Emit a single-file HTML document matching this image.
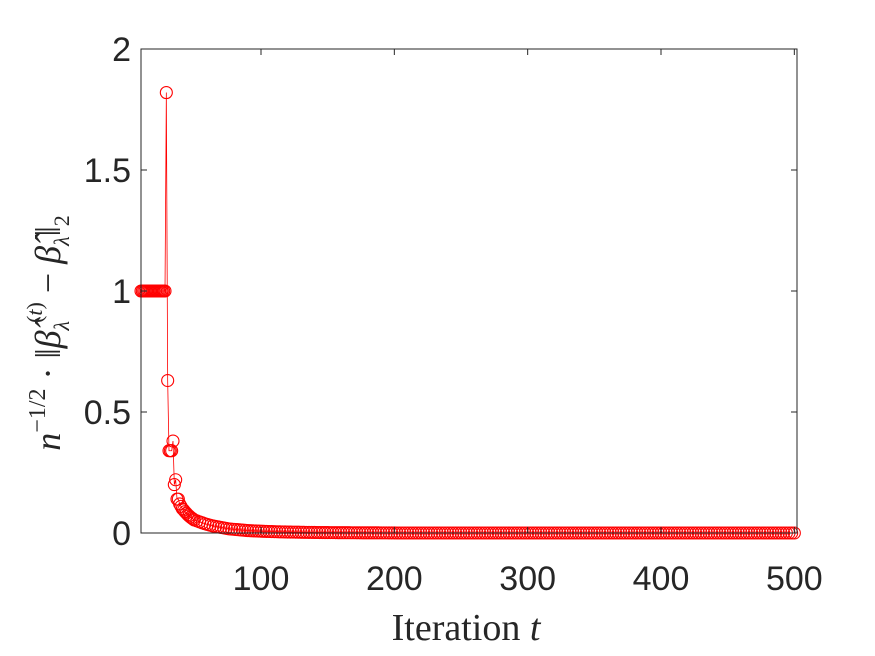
<!DOCTYPE html>
<html><head><meta charset="utf-8"><style>
html,body{margin:0;padding:0;background:#fff;width:875px;height:656px;overflow:hidden}
text{font-family:"Liberation Sans",sans-serif}
</style></head><body>
<svg id="chart" width="875" height="656">
<rect x="0" y="0" width="875" height="656" fill="#fff"/>
<g id="plot"></g>
<g id="axes"></g>
<text x="466" y="640" text-anchor="middle" font-size="38" fill="#262626" style="font-family:'Liberation Serif',serif">Iteration <tspan font-style="italic">t</tspan></text>
<text transform="translate(60,333) rotate(-90)" text-anchor="middle" font-size="36" fill="#262626" style="font-family:'Liberation Serif',serif"><tspan font-style="italic">n</tspan><tspan font-size="24" dy="-15">−1/2</tspan><tspan dy="15"> · ‖</tspan><tspan font-style="italic">β̂</tspan><tspan font-size="22" dy="9" font-style="italic">λ</tspan><tspan font-size="22" dy="-27" dx="-2">(</tspan><tspan font-size="22" font-style="italic">t</tspan><tspan font-size="22">)</tspan><tspan dy="18"> − </tspan><tspan font-style="italic">β̂</tspan><tspan font-size="22" dy="9" font-style="italic">λ</tspan><tspan dy="-9">‖</tspan><tspan font-size="22" dy="9">2</tspan></text>
</svg>
<script>
const tValues=[10,11,12,13,14,15,16,17,18,19,20,21,22,23,24,25,26,27,28,29,30,31,32,33,34,35,36,37,38,39,40,41,42,43,44,45,46,47,48,49,50,
52,54,56,58,60,62,64,66,68,70,72,74,76,78,80,82,84,86,88,90,92,94,96,98,100,
102,104,106,108,110,112,114,116,118,120,122,124,126,128,130,132,134,136,138,140,142,144,146,148,150,
152,154,156,158,160,162,164,166,168,170,172,174,176,178,180,182,184,186,188,190,192,194,196,198,200,
202,204,206,208,210,212,214,216,218,220,222,224,226,228,230,232,234,236,238,240,242,244,246,248,250,
252,254,256,258,260,262,264,266,268,270,272,274,276,278,280,282,284,286,288,290,292,294,296,298,300,
302,304,306,308,310,312,314,316,318,320,322,324,326,328,330,332,334,336,338,340,342,344,346,348,350,
352,354,356,358,360,362,364,366,368,370,372,374,376,378,380,382,384,386,388,390,392,394,396,398,400,
402,404,406,408,410,412,414,416,418,420,422,424,426,428,430,432,434,436,438,440,442,444,446,448,450,
452,454,456,458,460,462,464,466,468,470,472,474,476,478,480,482,484,486,488,490,492,494,496,498,500];
const yValues=[1,1,1,1,1,1,1,1,1,1,1,1,1,1,1,1,1,1,1,1.82,0.63,0.34,0.34,0.34,0.38,0.2,0.22,0.14,0.14,0.12,0.11,0.10,0.095,0.088,0.082,0.076,0.071,0.066,0.062,0.058,0.054,
0.050,0.046,0.042,0.038,0.035,0.032,0.029,0.027,0.025,0.023,0.021,0.019,0.017,0.016,0.015,0.014,0.013,0.012,0.011,0.010,0.0095,0.009,0.0085,0.008,0.0075,
0.007,0.0066,0.0062,0.0058,0.0055,0.0052,0.0049,0.0046,0.0043,0.004,0.0038,0.0036,0.0034,0.0032,0.003,0.0028,0.0026,0.0025,0.0024,0.0022,0.0021,0.002,0.0019,0.0018,0.0017,
0.0016,0.0015,0.0014,0.0013,0.0013,0.0012,0.0011,0.0011,0.001,0.001,0.0009,0.0009,0.0008,0.0008,0.0007,0.0007,0.0006,0.0006,0.0006,0.0005,0.0005,0.0005,0.0004,0.0004,0.0004,
0,0,0,0,0,0,0,0,0,0,0,0,0,0,0,0,0,0,0,0,0,0,0,0,0,
0,0,0,0,0,0,0,0,0,0,0,0,0,0,0,0,0,0,0,0,0,0,0,0,0,
0,0,0,0,0,0,0,0,0,0,0,0,0,0,0,0,0,0,0,0,0,0,0,0,0,
0,0,0,0,0,0,0,0,0,0,0,0,0,0,0,0,0,0,0,0,0,0,0,0,0,
0,0,0,0,0,0,0,0,0,0,0,0,0,0,0,0,0,0,0,0,0,0,0,0,0,
0,0,0,0,0,0,0,0,0,0,0,0,0,0,0,0,0,0,0,0,0,0,0,0,0];
const xTicks=[100,200,300,400,500];
const yTicks=[0,0.5,1,1.5,2];
const yTickLabels=["0","0.5","1","1.5","2"];
const L=141,R=797,T=49,B=533,xMin=10,xMax=502,yMin=0,yMax=2;
const sx=v=>L+(v-xMin)/(xMax-xMin)*(R-L);
const sy=v=>B-(v-yMin)/(yMax-yMin)*(B-T);
const NS="http://www.w3.org/2000/svg";
const plot=document.getElementById('plot'),axes=document.getElementById('axes');
function mk(tag,attrs,parent){const e=document.createElementNS(NS,tag);for(const k in attrs)e.setAttribute(k,attrs[k]);parent.appendChild(e);return e;}
let d="";tValues.forEach((t,i)=>{d+=(i?"L":"M")+sx(t)+","+sy(yValues[i]);});
const line=mk('path',{d:d,fill:'none',stroke:'#ff0000','stroke-width':0.8},plot);


tValues.forEach((t,i)=>{
  const c=mk('circle',{cx:sx(t),cy:sy(yValues[i]),r:6,fill:'none',stroke:'#ff0000','stroke-width':1.1},plot);
  
  
});
const frame=mk('rect',{x:L,y:T,width:R-L,height:B-T,fill:'none',stroke:'#262626','stroke-width':1},axes);


xTicks.forEach(v=>{
  const x=sx(v);
  mk('line',{x1:x,y1:B,x2:x,y2:B-6,stroke:'#262626'},axes);
  mk('line',{x1:x,y1:T,x2:x,y2:T+6,stroke:'#262626'},axes);
  const tx=mk('text',{x:x,y:B+57,'text-anchor':'middle','font-size':34,fill:'#262626'},axes);
  tx.textContent=v;
  
  
});
yTicks.forEach((v,i)=>{
  const y=sy(v);
  mk('line',{x1:L,y1:y,x2:L+6,y2:y,stroke:'#262626'},axes);
  mk('line',{x1:R,y1:y,x2:R-6,y2:y,stroke:'#262626'},axes);
  const tx=mk('text',{x:L-10,y:y+12,'text-anchor':'end','font-size':34,fill:'#262626'},axes);
  tx.textContent=yTickLabels[i];
  
  
});
</script>
</body></html>
